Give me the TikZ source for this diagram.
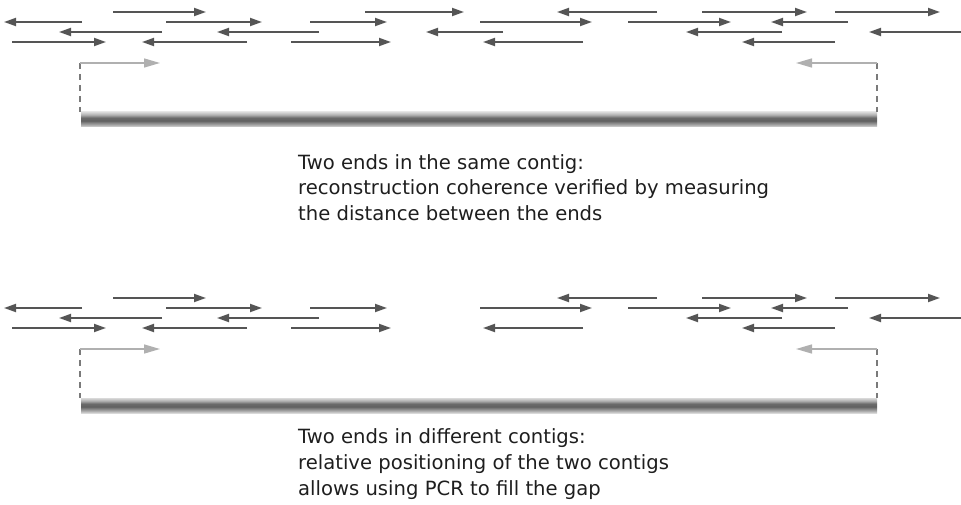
\documentclass[tikz,border=0pt]{standalone}
\usepackage{fontspec}
\setmainfont{DejaVu Sans}
\usetikzlibrary{arrows.meta}
\definecolor{readc}{HTML}{555555}
\definecolor{endc}{HTML}{B0B0B0}
\definecolor{dashc}{HTML}{7A7A7A}
\definecolor{txtc}{HTML}{1E1E1E}
\pgfdeclareverticalshading{barshade}{100bp}{color(0bp)=(black!15); color(25bp)=(black!15); color(33bp)=(black!35); color(46bp)=(black!62); color(56bp)=(black!58); color(66bp)=(black!30); color(75bp)=(black!15); color(100bp)=(black!15)}
\tikzset{
  readarrow/.style={draw=readc, line width=1.9pt, -{Triangle[length=12pt,width=8pt]}, readc},
  endarrow/.style={draw=endc, line width=1.5pt, -{Triangle[length=16pt,width=9pt]}, endc},
  endlink/.style={draw=dashc, line width=1.2pt, dash pattern=on 6pt off 5pt},
  contigbar/.style={shading=barshade},
  caption/.style={anchor=base west, inner sep=0pt, text=txtc, font=\fontsize{19.6}{23}\selectfont}
}
\begin{document}
\begin{tikzpicture}[x=1pt,y=-1pt]
\useasboundingbox (0,0) rectangle (961,505);
% two panels
\foreach \off/\tag in {0/a,286/b}{
  \begin{scope}[shift={(0,\off)}]
    \foreach \t/\h/\r in {113/206/12, 702/807/12, 835/940/12, 166/262/22, 310/387/22, 480/592/22, 628/731/22, 12/106/42, 291/391/42,
                          657/557/12, 82/4/22, 848/771/22, 162/59/32, 319/217/32, 782/686/32, 961/869/32, 247/142/42, 583/483/42, 835/742/42}
      \draw[readarrow] (\t,\r) -- (\h,\r);
    \coordinate (L\tag) at (80,63);
    \coordinate (R\tag) at (877,63);
    \coordinate (LB\tag) at (80,112);
    \coordinate (RB\tag) at (877,112);
    \shade[contigbar] (81,112) rectangle (877,127);
    \draw[endlink] (L\tag) -- (LB\tag);
    \draw[endlink] (R\tag) -- (RB\tag);
    \draw[endarrow] (L\tag) -- (160,63);
    \draw[endarrow] (R\tag) -- (796,63);
  \end{scope}
}
% reads only present in the single-contig case
\foreach \t/\h/\r in {365/464/12, 503/426/32}
  \draw[readarrow] (\t,\r) -- (\h,\r);
\node[caption] (ta1) at (298,170) {Two ends in the same contig:};
\node[caption] (ta2) at (298,195) {reconstruction coherence verified by measuring};
\node[caption] (ta3) at (298,221) {the distance between the ends};
\node[caption] (tb1) at (298,443) {Two ends in different contigs:};
\node[caption] (tb2) at (298,469) {relative positioning of the two contigs};
\node[caption] (tb3) at (298,495) {allows using PCR to fill the gap};
\end{tikzpicture}
\end{document}
